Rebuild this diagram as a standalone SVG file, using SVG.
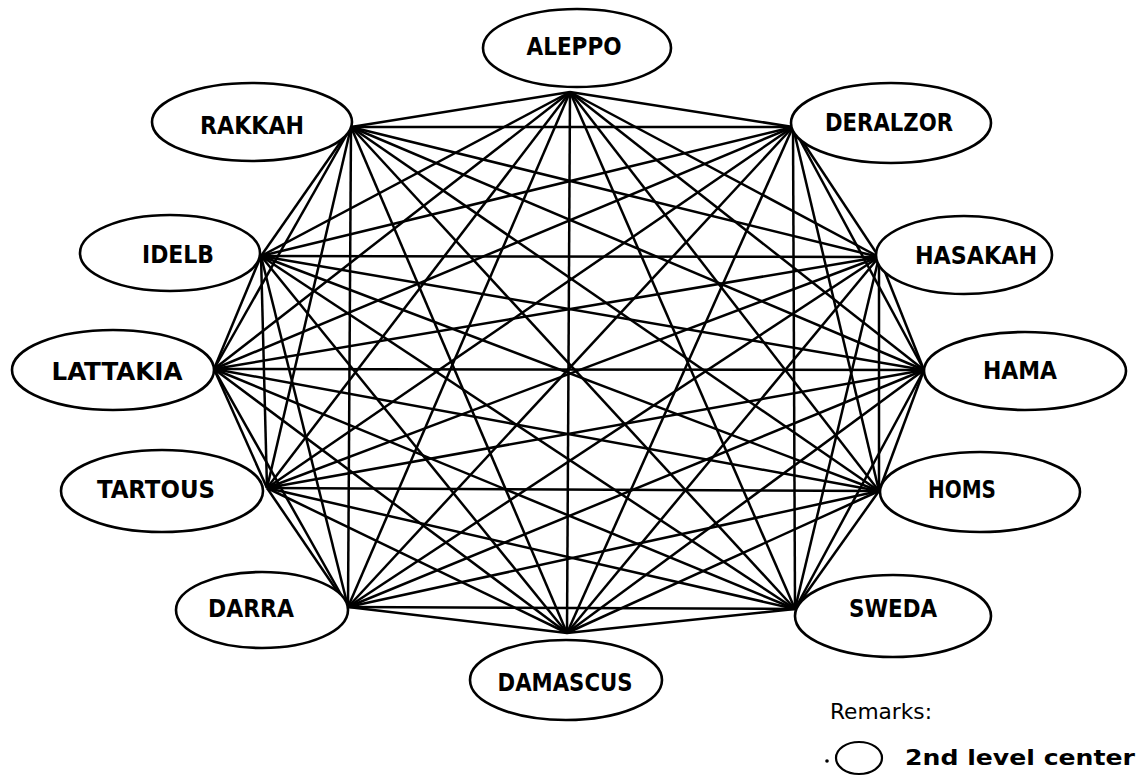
<svg xmlns="http://www.w3.org/2000/svg" width="1139" height="777" viewBox="0 0 1139 777">
<style>
.n ellipse{fill:#fff;stroke:#000;stroke-width:2.6}
.n text{font-family:"DejaVu Sans Condensed","DejaVu Sans",sans-serif;font-size:25px;font-weight:bold;fill:#000;text-anchor:middle;dominant-baseline:central}
#edges line{stroke:#000;stroke-width:2.5}
.lg{font-family:"DejaVu Sans Condensed","DejaVu Sans",sans-serif;font-size:22px;fill:#000}
</style>
<rect width="1139" height="777" fill="#fff"/>
<g id="edges">
<line x1="570" y1="92" x2="351" y2="127"/><line x1="570" y1="92" x2="793" y2="127"/><line x1="570" y1="92" x2="261" y2="256"/><line x1="570" y1="92" x2="879" y2="257"/><line x1="570" y1="92" x2="214" y2="369"/><line x1="570" y1="92" x2="924" y2="370"/><line x1="570" y1="92" x2="267" y2="488"/><line x1="570" y1="92" x2="879" y2="491"/><line x1="570" y1="92" x2="348" y2="607"/><line x1="570" y1="92" x2="795" y2="609"/><line x1="570" y1="92" x2="567" y2="633"/>
<line x1="351" y1="127" x2="793" y2="127"/><line x1="351" y1="127" x2="261" y2="256"/><line x1="351" y1="127" x2="879" y2="257"/><line x1="351" y1="127" x2="214" y2="369"/><line x1="351" y1="127" x2="924" y2="370"/><line x1="351" y1="127" x2="267" y2="488"/><line x1="351" y1="127" x2="879" y2="491"/><line x1="351" y1="127" x2="348" y2="607"/><line x1="351" y1="127" x2="795" y2="609"/><line x1="351" y1="127" x2="567" y2="633"/>
<line x1="793" y1="127" x2="261" y2="256"/><line x1="793" y1="127" x2="879" y2="257"/><line x1="793" y1="127" x2="214" y2="369"/><line x1="793" y1="127" x2="924" y2="370"/><line x1="793" y1="127" x2="267" y2="488"/><line x1="793" y1="127" x2="879" y2="491"/><line x1="793" y1="127" x2="348" y2="607"/><line x1="793" y1="127" x2="795" y2="609"/><line x1="793" y1="127" x2="567" y2="633"/>
<line x1="261" y1="256" x2="879" y2="257"/><line x1="261" y1="256" x2="214" y2="369"/><line x1="261" y1="256" x2="924" y2="370"/><line x1="261" y1="256" x2="267" y2="488"/><line x1="261" y1="256" x2="879" y2="491"/><line x1="261" y1="256" x2="348" y2="607"/><line x1="261" y1="256" x2="795" y2="609"/><line x1="261" y1="256" x2="567" y2="633"/>
<line x1="879" y1="257" x2="214" y2="369"/><line x1="879" y1="257" x2="924" y2="370"/><line x1="879" y1="257" x2="267" y2="488"/><line x1="879" y1="257" x2="879" y2="491"/><line x1="879" y1="257" x2="348" y2="607"/><line x1="879" y1="257" x2="795" y2="609"/><line x1="879" y1="257" x2="567" y2="633"/>
<line x1="214" y1="369" x2="924" y2="370"/><line x1="214" y1="369" x2="267" y2="488"/><line x1="214" y1="369" x2="879" y2="491"/><line x1="214" y1="369" x2="348" y2="607"/><line x1="214" y1="369" x2="795" y2="609"/><line x1="214" y1="369" x2="567" y2="633"/>
<line x1="924" y1="370" x2="267" y2="488"/><line x1="924" y1="370" x2="879" y2="491"/><line x1="924" y1="370" x2="348" y2="607"/><line x1="924" y1="370" x2="795" y2="609"/><line x1="924" y1="370" x2="567" y2="633"/>
<line x1="267" y1="488" x2="879" y2="491"/><line x1="267" y1="488" x2="348" y2="607"/><line x1="267" y1="488" x2="795" y2="609"/><line x1="267" y1="488" x2="567" y2="633"/>
<line x1="879" y1="491" x2="348" y2="607"/><line x1="879" y1="491" x2="795" y2="609"/><line x1="879" y1="491" x2="567" y2="633"/>
<line x1="348" y1="607" x2="795" y2="609"/><line x1="348" y1="607" x2="567" y2="633"/>
<line x1="795" y1="609" x2="567" y2="633"/>
</g>
<g id="aleppo" class="n"><ellipse cx="577" cy="48" rx="94" ry="39"/><text x="574" y="46" textLength="95" lengthAdjust="spacingAndGlyphs">ALEPPO</text></g>
<g id="rakkah" class="n"><ellipse cx="252" cy="122" rx="100" ry="39"/><text x="252" y="125" textLength="104" lengthAdjust="spacingAndGlyphs">RAKKAH</text></g>
<g id="deralzor" class="n"><ellipse cx="891" cy="123" rx="100" ry="40"/><text x="889" y="122" textLength="128" lengthAdjust="spacingAndGlyphs">DERALZOR</text></g>
<g id="idelb" class="n"><ellipse cx="170" cy="253" rx="90" ry="38"/><text x="178" y="254" textLength="72" lengthAdjust="spacingAndGlyphs">IDELB</text></g>
<g id="hasakah" class="n"><ellipse cx="964" cy="255" rx="88" ry="39"/><text x="976" y="255" textLength="122" lengthAdjust="spacingAndGlyphs">HASAKAH</text></g>
<g id="lattakia" class="n"><ellipse cx="113" cy="370" rx="101" ry="40"/><text x="117" y="371" textLength="131" lengthAdjust="spacingAndGlyphs">LATTAKIA</text></g>
<g id="hama" class="n"><ellipse cx="1025" cy="371" rx="101" ry="39"/><text x="1020" y="370" textLength="74" lengthAdjust="spacingAndGlyphs">HAMA</text></g>
<g id="tartous" class="n"><ellipse cx="162" cy="491" rx="101" ry="41"/><text x="156" y="489" textLength="118" lengthAdjust="spacingAndGlyphs">TARTOUS</text></g>
<g id="homs" class="n"><ellipse cx="980" cy="492" rx="100" ry="40"/><text x="962" y="489" textLength="68" lengthAdjust="spacingAndGlyphs">HOMS</text></g>
<g id="darra" class="n"><ellipse cx="262" cy="610" rx="86" ry="38"/><text x="251" y="608" textLength="86" lengthAdjust="spacingAndGlyphs">DARRA</text></g>
<g id="sweda" class="n"><ellipse cx="893" cy="616" rx="98" ry="41"/><text x="893" y="608" textLength="88" lengthAdjust="spacingAndGlyphs">SWEDA</text></g>
<g id="damascus" class="n"><ellipse cx="566" cy="680" rx="96" ry="40"/><text x="565" y="682" textLength="135" lengthAdjust="spacingAndGlyphs">DAMASCUS</text></g>
<g id="legend">
<text class="lg" x="830" y="719" textLength="102" lengthAdjust="spacingAndGlyphs">Remarks:</text>
<circle cx="827" cy="761" r="1.8" fill="#000"/>
<ellipse cx="859" cy="758" rx="23" ry="16" fill="none" stroke="#000" stroke-width="2.2"/>
<text class="lg" x="905" y="765" font-weight="bold" textLength="230" lengthAdjust="spacingAndGlyphs">2nd level center</text>
</g>
</svg>
